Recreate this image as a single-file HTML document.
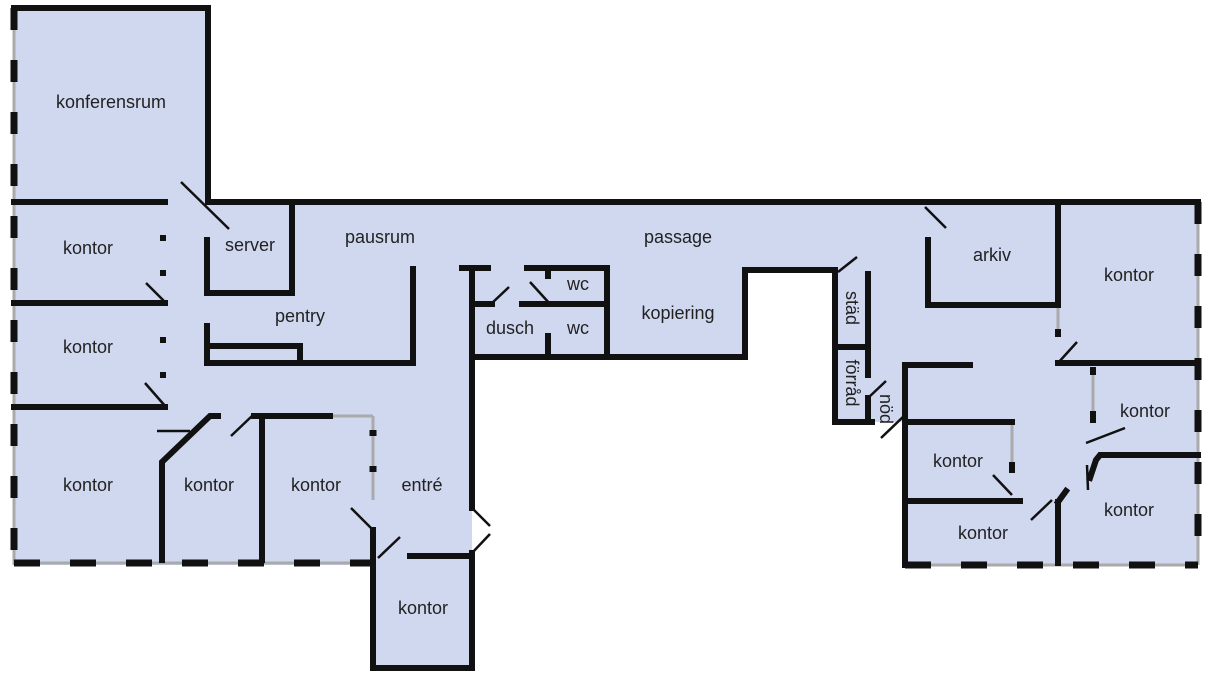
<!DOCTYPE html>
<html><head><meta charset="utf-8"><style>
html,body{margin:0;padding:0;background:#fff;}
svg{display:block;}
text{font-family:"Liberation Sans",sans-serif;font-size:18px;fill:#222;text-anchor:middle;}
</style></head><body>
<svg width="1220" height="682" viewBox="0 0 1220 682" xmlns="http://www.w3.org/2000/svg">
<polygon fill="#d0d8f0" points="14,8 210,8 210,202 1198,202 1198,565 905,565 905,422 835,422 835,270 745,270 745,357 472,357 472,668 373,668 373,565 14,565"/>
<g stroke="#aaa" stroke-width="3" fill="none">
<line x1="14" y1="8" x2="14" y2="565"/>
<line x1="14" y1="563" x2="373" y2="563"/>
<line x1="373" y1="416" x2="373" y2="500"/>
<line x1="333" y1="416" x2="373" y2="416"/>
<line x1="373" y1="565" x2="373" y2="668"/>
<line x1="1198" y1="202" x2="1198" y2="565"/>
<line x1="905" y1="565" x2="1198" y2="565"/>
<line x1="1058" y1="305" x2="1058" y2="330"/>
<line x1="1093" y1="370" x2="1093" y2="415"/>
<line x1="1012" y1="422" x2="1012" y2="465"/>
</g>
<g stroke="#111" stroke-width="7" fill="none">
<line x1="14" y1="8" x2="14" y2="565" stroke-dasharray="22,30"/>
<line x1="14" y1="563" x2="373" y2="563" stroke-dasharray="26,30"/>
<line x1="1198" y1="202" x2="1198" y2="565" stroke-dasharray="22,30"/>
<line x1="905" y1="565" x2="1198" y2="565" stroke-dasharray="26,30"/>
<line x1="373" y1="430" x2="373" y2="500" stroke-dasharray="6,30"/>
</g>
<g stroke="#111" stroke-width="6" fill="none" stroke-linecap="square">
<polyline points="14,8 208,8 208,202"/>
<line x1="14" y1="202" x2="165" y2="202"/>
<line x1="208" y1="202" x2="1198" y2="202"/>
<line x1="14" y1="303" x2="165" y2="303"/>
<line x1="14" y1="407" x2="165" y2="407"/>
<polyline points="207,240 207,293 292,293 292,202"/>
<polyline points="207,326 207,363 413,363 413,269"/>
<polyline points="207,346 300,346 300,363"/>
<polyline points="162,560 162,462 210,416 218,416"/>
<line x1="262" y1="416" x2="262" y2="560"/>
<line x1="254" y1="416" x2="330" y2="416"/>
<line x1="373" y1="530" x2="373" y2="563"/>
<line x1="472" y1="270" x2="472" y2="508"/>
<line x1="472" y1="553" x2="472" y2="668"/>
<line x1="462" y1="268" x2="488" y2="268"/>
<polyline points="410,556 472,556"/>
<polyline points="373,565 373,668 472,668"/>
<polyline points="527,268 607,268 607,357"/>
<line x1="475" y1="304" x2="492" y2="304"/>
<line x1="522" y1="304" x2="607" y2="304"/>
<line x1="548" y1="268" x2="548" y2="276"/>
<line x1="548" y1="336" x2="548" y2="357"/>
<polyline points="472,357 745,357 745,270 835,270"/>
<line x1="835" y1="270" x2="835" y2="422"/>
<line x1="868" y1="274" x2="868" y2="375"/>
<line x1="835" y1="347" x2="868" y2="347"/>
<line x1="835" y1="422" x2="872" y2="422"/>
<line x1="868" y1="398" x2="868" y2="422"/>
<polyline points="928,240 928,305 1058,305 1058,202"/>
<line x1="1058" y1="332" x2="1058" y2="334"/>
<line x1="1058" y1="363" x2="1198" y2="363"/>
<line x1="1093" y1="370" x2="1093" y2="372"/>
<line x1="1093" y1="414" x2="1093" y2="420"/>
<polyline points="1090,478 1096,460 1100,455 1198,455"/>
<polyline points="970,365 905,365 905,565"/>
<line x1="905" y1="422" x2="1012" y2="422"/>
<line x1="1012" y1="465" x2="1012" y2="470"/>
<line x1="905" y1="501" x2="1020" y2="501"/>
<line x1="1058" y1="502" x2="1058" y2="563"/>
<line x1="1058" y1="502" x2="1066" y2="491"/>
</g>
<g fill="#111">
<rect x="160" y="235" width="6" height="6"/><rect x="160" y="270" width="6" height="6"/>
<rect x="160" y="337" width="6" height="6"/><rect x="160" y="372" width="6" height="6"/>
</g>
<g stroke="#111" stroke-width="2.5" fill="none">
<line x1="181" y1="182" x2="229" y2="229"/>
<line x1="146" y1="283" x2="166" y2="303"/>
<line x1="145" y1="383" x2="166" y2="407"/>
<line x1="157" y1="431" x2="190" y2="431"/>
<line x1="231" y1="436" x2="252" y2="416"/>
<line x1="351" y1="508" x2="373" y2="530"/>
<line x1="378" y1="558" x2="400" y2="537"/>
<line x1="472" y1="508" x2="490" y2="526"/>
<line x1="472" y1="553" x2="490" y2="534"/>
<line x1="491" y1="304" x2="509" y2="287"/>
<line x1="530" y1="282" x2="550" y2="304"/>
<line x1="838" y1="272" x2="857" y2="257"/>
<line x1="925" y1="207" x2="946" y2="228"/>
<line x1="1058" y1="363" x2="1077" y2="342"/>
<line x1="1086" y1="443" x2="1125" y2="428"/>
<line x1="1087" y1="465" x2="1088" y2="490"/>
<line x1="993" y1="475" x2="1012" y2="495"/>
<line x1="1031" y1="520" x2="1052" y2="500"/>
<line x1="868" y1="398" x2="886" y2="381"/>
<line x1="881" y1="438" x2="905" y2="415"/>
</g>
<text x="111" y="108">konferensrum</text>
<text x="88" y="254">kontor</text>
<text x="250" y="251">server</text>
<text x="380" y="243">pausrum</text>
<text x="678" y="243">passage</text>
<text x="300" y="322">pentry</text>
<text x="88" y="353">kontor</text>
<text x="88" y="491">kontor</text>
<text x="209" y="491">kontor</text>
<text x="316" y="491">kontor</text>
<text x="422" y="491">entré</text>
<text x="423" y="614">kontor</text>
<text x="510" y="334">dusch</text>
<text x="578" y="290">wc</text>
<text x="578" y="334">wc</text>
<text x="678" y="319">kopiering</text>
<text x="992" y="261">arkiv</text>
<text x="1129" y="281">kontor</text>
<text x="1145" y="417">kontor</text>
<text x="958" y="467">kontor</text>
<text x="983" y="539">kontor</text>
<text x="1129" y="516">kontor</text>
<text transform="translate(846,308) rotate(90)">städ</text>
<text transform="translate(846,383) rotate(90)">förråd</text>
<text transform="translate(880,409) rotate(90)">nöd</text>
</svg>
</body></html>
